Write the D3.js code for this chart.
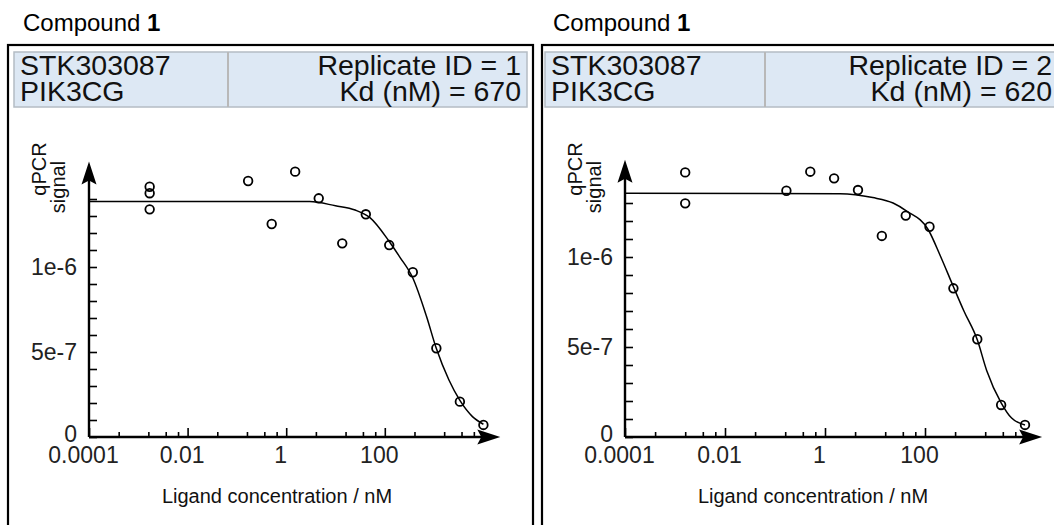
<!DOCTYPE html>
<html>
<head>
<meta charset="utf-8">
<script src="https://cdn.jsdelivr.net/npm/d3@7"></script>
<style>
  body { margin: 0; background: #fff; }
  svg { display: block; font-family: "Liberation Sans", Arial, Helvetica, sans-serif; }
</style>
</head>
<body>
<svg id="chart" width="1054" height="525"></svg>
<script>
// ---- data ----
const compoundName = 'Compound ';
const compoundNumber = '1';
const ligandName = 'STK303087';
const targetName = 'PIK3CG';
const replicateIds = [1, 2];
const kdValues = [670, 620];

// x axis (ligand concentration, nM, log scale)
const xMajorTicks = [1e-4, 1e-2, 1, 100];
const xTickLabels = ['0.0001', '0.01', '1', '100'];
const xMinorTicks = [4e-4, 1.6e-3, 3.6e-3, 6.4e-3, 0.04, 0.16, 0.36, 0.64, 4, 16, 36, 64, 400, 1600, 3600, 6400];

// y axis (qPCR signal)
const yLabelTicks = [0, 5e-7, 1e-6];
const yTickLabels = ['0', '5e-7', '1e-6'];
const yTickTops = [1.4e-6, 1.3e-6];

// replicate 1 measured points
const rep1Conc = [0.0017, 0.0017, 0.0017, 0.169, 0.508, 1.52, 4.57, 13.7, 41.2, 123, 370, 1111, 3333, 10000];
const rep1Signal = [1.472e-6, 1.434e-6, 1.339e-6, 1.506e-6, 1.253e-6, 1.561e-6, 1.404e-6, 1.139e-6, 1.31e-6, 1.129e-6, 0.969e-6, 0.522e-6, 0.208e-6, 0.071e-6];
// replicate 1 fitted curve (traced)
const rep1FitConc = [1e-4, 3, 10, 25, 50, 123, 200, 370, 700, 1111, 2000, 3333, 6000, 10000];
const rep1FitSignal = [1.385e-6, 1.385e-6, 1.36e-6, 1.335e-6, 1.29e-6, 1.15e-6, 1.06e-6, 0.935e-6, 0.71e-6, 0.52e-6, 0.335e-6, 0.215e-6, 0.12e-6, 0.075e-6];

// replicate 2 measured points
const rep2Conc = [0.0016, 0.0016, 0.169, 0.508, 1.52, 4.57, 13.7, 41.2, 123, 370, 1111, 3333, 10000];
const rep2Signal = [1.47e-6, 1.298e-6, 1.368e-6, 1.474e-6, 1.437e-6, 1.372e-6, 1.117e-6, 1.23e-6, 1.168e-6, 0.826e-6, 0.543e-6, 0.178e-6, 0.067e-6];
// replicate 2 fitted curve (traced)
const rep2FitConc = [1e-4, 2, 9, 23, 43, 117, 200, 370, 600, 1111, 1710, 3333, 5400, 10000];
const rep2FitSignal = [1.354e-6, 1.352e-6, 1.33e-6, 1.3e-6, 1.255e-6, 1.15e-6, 1.01e-6, 0.835e-6, 0.7e-6, 0.54e-6, 0.37e-6, 0.19e-6, 0.105e-6, 0.067e-6];

// ---- layout of the two panels ----
const panels = [
  { frameX: 8, headX: 14, divider: 214, titleX: 23, x0: 89, decade: 49.3, y0: 437, yPerUnit: 170, yTip: 1.62e-6,
    conc: rep1Conc, signal: rep1Signal, fitConc: rep1FitConc, fitSignal: rep1FitSignal },
  { frameX: 542, headX: 545, divider: 220, titleX: 553, x0: 625, decade: 50, y0: 437, yPerUnit: 180, yTip: 1.54e-6,
    conc: rep2Conc, signal: rep2Signal, fitConc: rep2FitConc, fitSignal: rep2FitSignal }
];

const svg = d3.select('#chart');

// Function to draw one replicate panel
function drawPanel(p, i) {
  const g = svg.append('g');

  const x = d3.scaleLog().domain([1e-4, 1e4]).range([p.x0, p.x0 + 8 * p.decade]);
  const y = d3.scaleLinear().domain([0, 1e-6]).range([p.y0, p.y0 - p.yPerUnit]);

  // title above the frame
  const title = g.append('text').attr('x', p.titleX).attr('y', 31).attr('font-size', 24).attr('fill', '#000');
  title.append('tspan').text(compoundName);
  title.append('tspan').attr('font-weight', 'bold').text(compoundNumber);

  // frame
  g.append('rect')
    .attr('x', p.frameX).attr('y', 45).attr('width', 525).attr('height', 500)
    .attr('fill', 'none').attr('stroke', '#000').attr('stroke-width', 2.2);

  // header box with two cells
  g.append('rect')
    .attr('x', p.headX).attr('y', 52).attr('width', 513).attr('height', 55)
    .attr('fill', '#dde8f4').attr('stroke', '#b4bcc4').attr('stroke-width', 1.5);
  g.append('line')
    .attr('x1', p.headX + p.divider).attr('x2', p.headX + p.divider)
    .attr('y1', 52).attr('y2', 107)
    .attr('stroke', '#b8b8b8').attr('stroke-width', 2);

  const head = g.append('g').attr('font-size', 28.5).attr('fill', '#111');
  head.append('text').attr('x', p.headX + 6).attr('y', 75).text(ligandName);
  head.append('text').attr('x', p.headX + 6).attr('y', 101).text(targetName);
  head.append('text').attr('x', p.headX + 507).attr('y', 75).attr('text-anchor', 'end')
    .text('Replicate ID = ' + replicateIds[i]);
  head.append('text').attr('x', p.headX + 507).attr('y', 101).attr('text-anchor', 'end')
    .text('Kd (nM) = ' + kdValues[i]);

  // y axis ticks and labels
  const yTicks = d3.range(0, Math.round(yTickTops[i] / 1e-7) + 1).map(k => k * 1e-7);
  const yMinor = g.append('g').attr('transform', `translate(${p.x0},0)`)
    .call(d3.axisLeft(y).tickValues(yTicks).tickSize(-8).tickSizeOuter(0).tickFormat(''));
  yMinor.select('.domain').remove();
  yMinor.selectAll('line').attr('stroke', '#000').attr('stroke-width', 1.6);

  const yLab = g.append('g').attr('transform', `translate(${p.x0},0)`)
    .call(d3.axisLeft(y).tickValues(yLabelTicks).tickSize(0).tickPadding(12)
      .tickFormat((d, k) => yTickLabels[k]));
  yLab.select('.domain').remove();
  yLab.selectAll('text').attr('font-size', 23).attr('fill', '#222').attr('font-family', null)
    .attr('dy', d => d === 0 ? '0.2em' : '0.32em');

  // x axis ticks and labels
  const xMinor = g.append('g').attr('transform', `translate(0,${p.y0})`)
    .call(d3.axisBottom(x).tickValues(xMinorTicks).tickSize(-5).tickSizeOuter(0).tickFormat(''));
  xMinor.select('.domain').remove();
  xMinor.selectAll('line').attr('stroke', '#000').attr('stroke-width', 1.6);

  const xMajor = g.append('g').attr('transform', `translate(0,${p.y0})`)
    .call(d3.axisBottom(x).tickValues(xMajorTicks).tickSize(-9).tickSizeOuter(0).tickPadding(10)
      .tickFormat((d, k) => xTickLabels[k]));
  xMajor.select('.domain').remove();
  xMajor.selectAll('line').attr('stroke', '#000').attr('stroke-width', 1.6);
  xMajor.selectAll('text').attr('font-size', 23).attr('fill', '#222').attr('dx', -6).attr('font-family', null);

  // axis lines with arrow heads
  const xTip = x(2.2e4);
  const yTipPx = y(p.yTip);
  g.append('line').attr('x1', p.x0).attr('x2', xTip - 10).attr('y1', p.y0).attr('y2', p.y0)
    .attr('stroke', '#000').attr('stroke-width', 2.4);
  g.append('line').attr('x1', p.x0).attr('x2', p.x0).attr('y1', p.y0).attr('y2', yTipPx + 10)
    .attr('stroke', '#000').attr('stroke-width', 2.4);
  g.append('path')
    .attr('d', `M${xTip},${p.y0} L${xTip - 23},${p.y0 - 7.5} L${xTip - 19},${p.y0} L${xTip - 23},${p.y0 + 7.5} Z`)
    .attr('fill', '#000');
  g.append('path')
    .attr('d', `M${p.x0},${yTipPx} L${p.x0 - 7.5},${yTipPx + 23} L${p.x0},${yTipPx + 19} L${p.x0 + 7.5},${yTipPx + 23} Z`)
    .attr('fill', '#000');

  // axis titles
  g.append('text').attr('x', p.x0 + 188).attr('y', 503).attr('text-anchor', 'middle')
    .attr('font-size', 20).attr('fill', '#111').text('Ligand concentration / nM');
  g.append('text').attr('transform', `translate(${p.x0 - 43},169) rotate(-90)`)
    .attr('text-anchor', 'middle').attr('font-size', 20).attr('fill', '#111').text('qPCR');
  g.append('text').attr('transform', `translate(${p.x0 - 24},187) rotate(-90)`)
    .attr('text-anchor', 'middle').attr('font-size', 20).attr('fill', '#111').text('signal');

  // fitted curve
  const fit = p.fitConc.map((c, k) => ({ c: c, v: p.fitSignal[k] }));
  const line = d3.line().x(d => x(d.c)).y(d => y(d.v)).curve(d3.curveMonotoneX);
  g.append('path').datum(fit).attr('d', line)
    .attr('fill', 'none').attr('stroke', '#000').attr('stroke-width', 1.5);

  // measured points
  const pts = p.conc.map((c, k) => ({ c: c, v: p.signal[k] }));
  g.selectAll('circle.pt').data(pts).enter().append('circle')
    .attr('class', 'pt')
    .attr('cx', d => x(d.c)).attr('cy', d => y(d.v)).attr('r', 4.3)
    .attr('fill', 'none').attr('stroke', '#000').attr('stroke-width', 1.8);
}

panels.forEach(drawPanel);
</script>
</body>
</html>
